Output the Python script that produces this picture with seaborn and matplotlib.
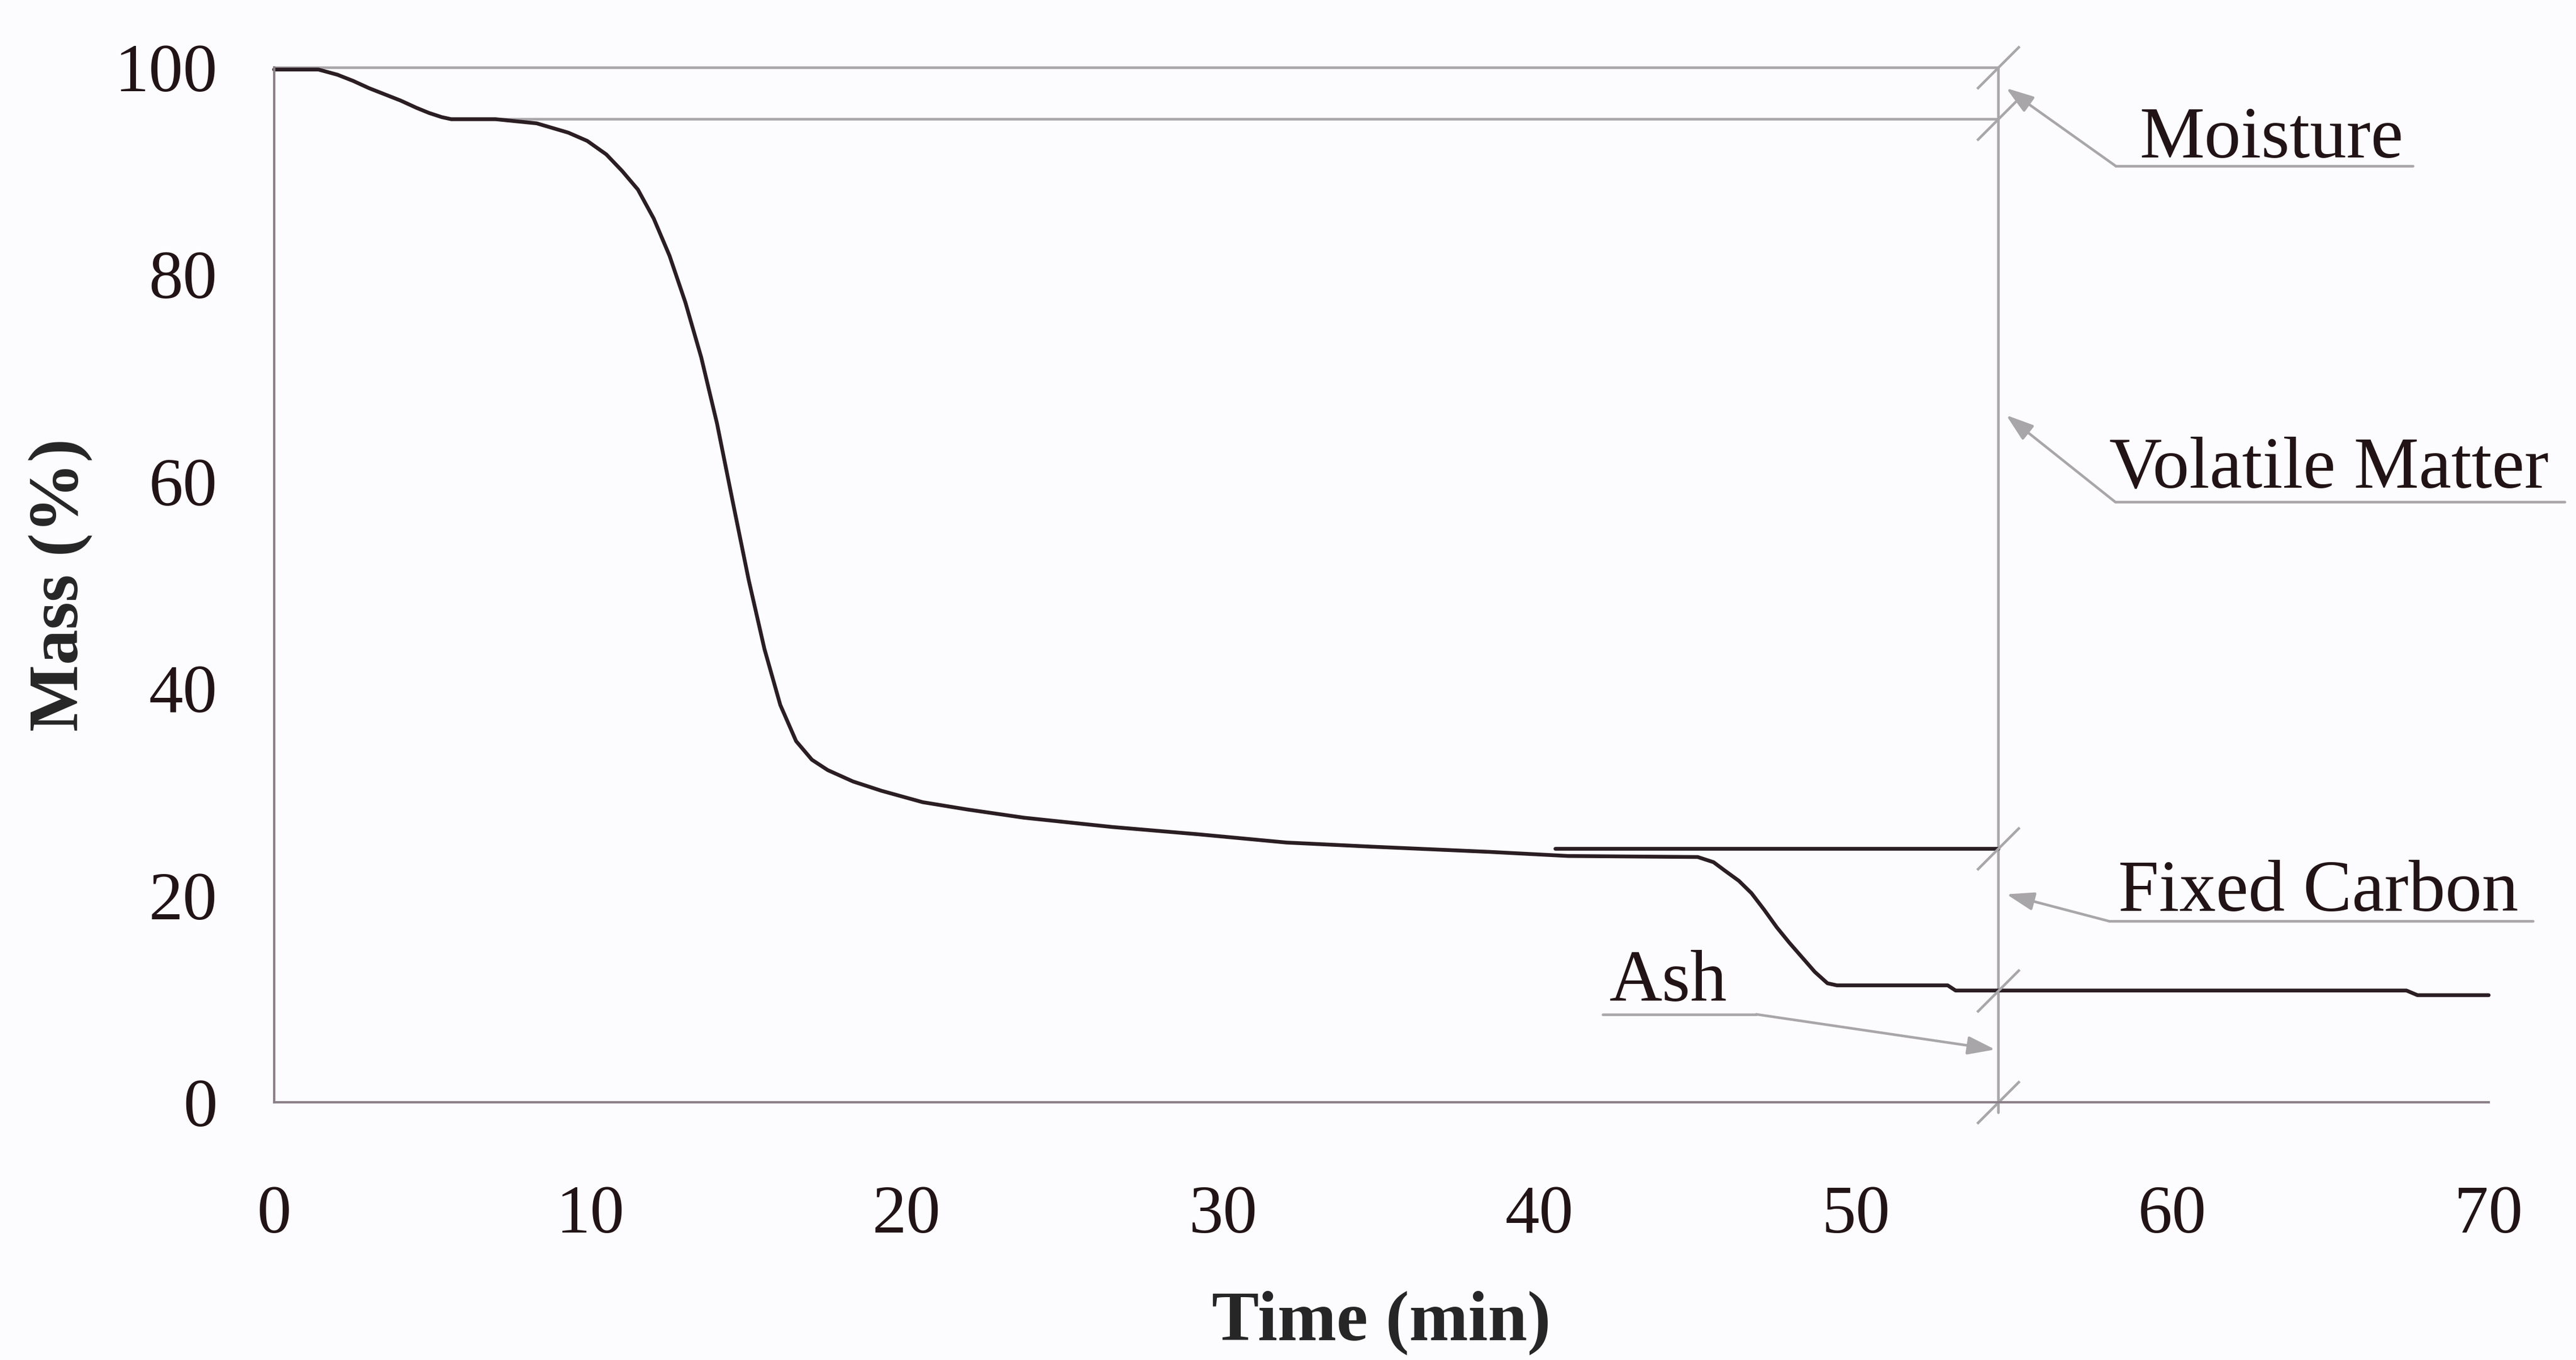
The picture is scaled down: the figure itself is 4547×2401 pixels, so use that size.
import numpy as np
import pandas as pd
import matplotlib
matplotlib.use('Agg')
import matplotlib.pyplot as plt
import seaborn as sns

# TGA curve (time in min, mass in %)
time_min = [0.0, 1.4, 2.0, 2.5, 3.0, 3.5, 4.0, 4.5, 4.9, 5.3, 5.6, 7.0, 8.3, 9.3, 9.9,
            10.5, 11.0, 11.5, 12.0, 12.5, 13.0, 13.5, 14.0, 14.5, 15.0, 15.5, 16.0,
            16.5, 17.0, 17.5, 18.3, 19.2, 20.5, 21.9, 23.7, 26.5, 29.2, 32.0, 34.7,
            38.4, 40.9, 45.0, 45.5, 45.85, 46.3, 46.7, 47.1, 47.5, 47.9, 48.3, 48.7,
            49.1, 49.4, 52.9, 53.15, 67.4, 67.75, 70.0]
mass_pct = [99.8, 99.8, 99.3, 98.7, 98.0, 97.4, 96.8, 96.1, 95.6, 95.2, 95.0, 95.0, 94.6,
            93.7, 92.9, 91.6, 90.0, 88.2, 85.4, 81.8, 77.3, 72.0, 65.6, 58.0, 50.5,
            43.8, 38.4, 34.9, 33.1, 32.1, 31.0, 30.1, 29.0, 28.3, 27.5, 26.6, 25.9,
            25.1, 24.7, 24.2, 23.8, 23.7, 23.2, 22.4, 21.4, 20.2, 18.6, 16.9, 15.4,
            14.0, 12.6, 11.5, 11.3, 11.3, 10.8, 10.8, 10.35, 10.35]

# fixed carbon level carried on to the marker line
fc_time = [40.5, 54.5]
fc_mass = [24.5, 24.5]

# proximate analysis scale
marker_x = 54.5
break_levels = [100, 95, 24.5, 10.8, 0]
level_lines = {100: 0.0, 95: 7.0}   # level: start time

labels = ['Moisture', 'Volatile Matter', 'Fixed Carbon', 'Ash']
label_xy = [(58.95, 91.3), (58.0, 59.4), (58.3, 18.5), (42.2, 9.8)]
arrow_tip = [(54.75, 98.0), (54.75, 66.4), (54.76, 20.1), (54.4, 5.1)]
arrow_tail = [(58.2, 90.5), (58.2, 58.0), (58.0, 17.5), (46.85, 8.5)]
underline_x = [(58.2, 67.6), (58.2, 72.4), (58.0, 71.4), (42.0, 46.85)]

bg = '#fcfbfd'
ink = '#2b1e22'
gray = '#a9a6aa'
spine_c = '#8c8088'

sns.set_theme(style='white')
plt.rcParams['font.family'] = ['Liberation Serif', 'DejaVu Serif']
plt.rcParams['text.color'] = '#221416'

fig = plt.figure(figsize=(4547 / 300, 2401 / 300), dpi=300, facecolor=bg)
ax = fig.add_axes([0.1064, 0.1895, 0.8597, 0.7609], facecolor=bg)

df = pd.DataFrame({'Time': time_min, 'Mass': mass_pct})
sns.lineplot(data=df, x='Time', y='Mass', color=ink, linewidth=1.6, ax=ax, clip_on=False)
sns.lineplot(x=fc_time, y=fc_mass, color=ink, linewidth=1.6, ax=ax)

# gray reference lines
for lvl, x0 in level_lines.items():
    ax.plot([x0, marker_x], [lvl, lvl], color=gray, lw=1.1, clip_on=False, zorder=1)
ax.plot([marker_x, marker_x], [-1, 100], color=gray, lw=1.1, clip_on=False, zorder=1)
ax.plot([marker_x] * len(break_levels), break_levels, ls='none',
        marker=[(-1, -1), (1, 1)], ms=18, mew=1.1, mec=gray, mfc='none', clip_on=False)

for lab, (tx, ty), tip, tail, (u0, u1) in zip(labels, label_xy, arrow_tip, arrow_tail, underline_x):
    ax.annotate('', xy=tip, xytext=tail, annotation_clip=False,
                arrowprops=dict(arrowstyle='-|>,head_length=0.45,head_width=0.15',
                                color=gray, lw=1.1, mutation_scale=22,
                                shrinkA=0, shrinkB=0))
    ax.plot([u0, u1], [tail[1], tail[1]], color=gray, lw=1.1, clip_on=False)
    ax.text(tx, ty, lab, fontsize=31, va='baseline', ha='left', clip_on=False)

ax.set_xlim(0, 70)
ax.set_ylim(0, 100)
ax.set_xticks(np.arange(0, 71, 10))
ax.set_yticks(np.arange(0, 101, 20))
sns.despine(ax=ax)
for s in ['left', 'bottom']:
    ax.spines[s].set_color(spine_c)
    ax.spines[s].set_linewidth(1.0)
ax.tick_params(axis='both', direction='out', length=9, width=1.0, color=spine_c,
               labelsize=29, labelcolor='#221416')
ax.tick_params(axis='x', pad=26)
ax.tick_params(axis='y', pad=15)
ax.set_xlabel('Time (min)', fontsize=30, fontweight='bold', va='center')
ax.set_ylabel('Mass (%)', fontsize=30, fontweight='bold', va='center')
ax.xaxis.set_label_coords(0.5, -0.213)
ax.yaxis.set_label_coords(-0.0964, 0.5)

fig.savefig('out.png', dpi=300, facecolor=bg)
